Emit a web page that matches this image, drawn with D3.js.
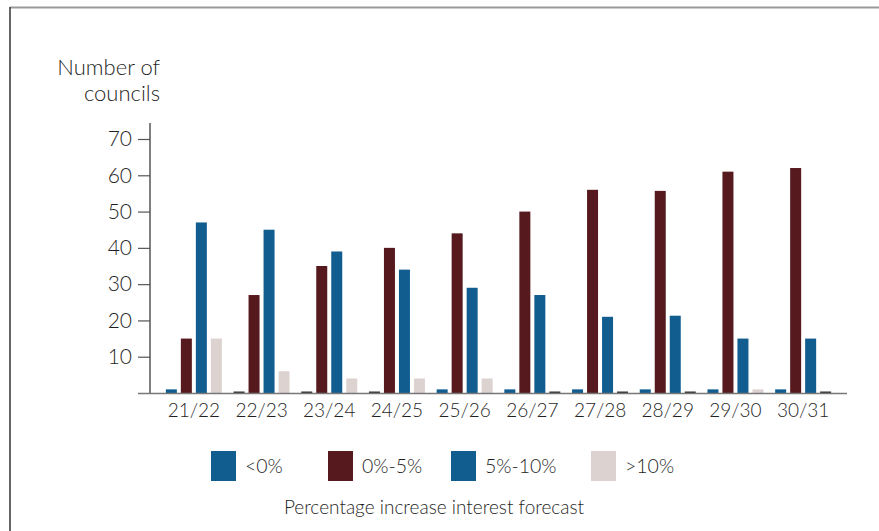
<!DOCTYPE html>
<html>
<head>
<meta charset="utf-8">
<script src="https://cdn.jsdelivr.net/npm/d3@7"></script>
<style>
  html, body { margin: 0; padding: 0; background: #fff; }
  svg { display: block; font-family: Lato, "Open Sans", sans-serif; font-weight: 300; }
</style>
</head>
<body>
<svg id="chart" width="879" height="531"></svg>
<script>
// Financial years on the x axis
const years = ["21/22", "22/23", "23/24", "24/25", "25/26", "26/27", "27/28", "28/29", "29/30", "30/31"];

// Number of councils in each forecast band, per year
const below0   = [1, 0, 0, 0, 1, 1, 1, 1, 1, 1];
const from0to5 = [15, 27, 35, 40, 44, 50, 56, 55.7, 61, 62];
const from5to10 = [47, 45, 39, 34, 29, 27, 21, 21.3, 15, 15];
const above10  = [15, 6, 4, 4, 4, 0, 0, 0, 1, 0];

const seriesNames = ["<0%", "0%-5%", "5%-10%", ">10%"];
const seriesValues = [below0, from0to5, from5to10, above10];
const seriesColors = ["#115d8f", "#561a1e", "#115d8f", "#dcd2d0"];

const yTicks = [10, 20, 30, 40, 50, 60, 70];

const svg = d3.select("#chart");
const textColor = "#1f1f1f";
const font = "Lato, sans-serif";

// frame lines
svg.append("line").attr("x1", 10).attr("x2", 879).attr("y1", 7.5).attr("y2", 7.5)
  .attr("stroke", "#999").attr("stroke-width", 2);
svg.append("line").attr("x1", 10).attr("x2", 10).attr("y1", 7).attr("y2", 531)
  .attr("stroke", "#333").attr("stroke-width", 1.5);

// scales
const y = d3.scaleLinear().domain([0, 70]).range([393, 139]);
const x0 = d3.scaleBand().domain(years).range([160, 837]).paddingInner(0).paddingOuter(0);
const inner = 56;
const off = (x0.bandwidth() - inner) / 2;
const x1 = d3.scaleBand().domain(seriesNames).range([off, off + inner]).paddingInner(4 / 15).paddingOuter(0);

// bars (zero values shown as a thin dark stub on the baseline)
const rows = years.map((yr, i) => ({ year: yr, vals: seriesNames.map((s, j) => ({ s, j, v: seriesValues[j][i] })) }));
const groups = svg.append("g").selectAll("g").data(rows).join("g")
  .attr("transform", d => `translate(${x0(d.year)},0)`);
groups.selectAll("rect").data(d => d.vals).join("rect")
  .attr("x", d => x1(d.s))
  .attr("width", x1.bandwidth())
  .attr("y", d => d.v > 0 ? y(d.v) : y(0) - 1.5)
  .attr("height", d => d.v > 0 ? y(0) - y(d.v) : 1.5)
  .attr("fill", d => d.v > 0 ? seriesColors[d.j] : "#333");

// y axis
const yAxis = d3.axisLeft(y).tickValues(yTicks).tickSize(12).tickPadding(6).tickSizeOuter(0);
const gy = svg.append("g").attr("transform", "translate(150,0)").call(yAxis);
gy.select(".domain").remove();
gy.selectAll(".tick line").attr("stroke", "#555").attr("stroke-width", 1.2);
gy.selectAll(".tick text").attr("fill", textColor).attr("font-size", 21).attr("font-family", font);
svg.append("line").attr("x1", 150).attr("x2", 150).attr("y1", 123).attr("y2", 393)
  .attr("stroke", "#555").attr("stroke-width", 1.5);

// x axis
const xAxis = d3.axisBottom(x0).tickSize(0).tickPadding(11);
const gx = svg.append("g").attr("transform", `translate(0,${y(0)})`).call(xAxis);
gx.select(".domain").remove();
gx.selectAll(".tick text").attr("fill", textColor).attr("font-size", 19).attr("font-family", font);
svg.append("line").attr("x1", 138).attr("x2", 847).attr("y1", 393.5).attr("y2", 393.5)
  .attr("stroke", "#777").attr("stroke-width", 1.5);

// y axis title
svg.append("text").attr("x", 160).attr("y", 75).attr("text-anchor", "end")
  .attr("font-size", 22).attr("fill", textColor).text("Number of");
svg.append("text").attr("x", 160).attr("y", 101).attr("text-anchor", "end")
  .attr("font-size", 22).attr("fill", textColor).text("councils");

// legend
const legendX = [211, 328, 451, 591];
const lg = svg.append("g").selectAll("g").data(seriesNames).join("g")
  .attr("transform", (d, i) => `translate(${legendX[i]},451)`);
lg.append("rect").attr("width", 25).attr("height", 30).attr("fill", (d, i) => seriesColors[i]);
lg.append("text").attr("x", 34).attr("y", 22).attr("font-size", 19.5).attr("fill", textColor).text(d => d);

// x axis title
svg.append("text").attr("x", 434).attr("y", 514).attr("text-anchor", "middle")
  .attr("font-size", 19).attr("fill", textColor).text("Percentage increase interest forecast");
</script>
</body>
</html>
